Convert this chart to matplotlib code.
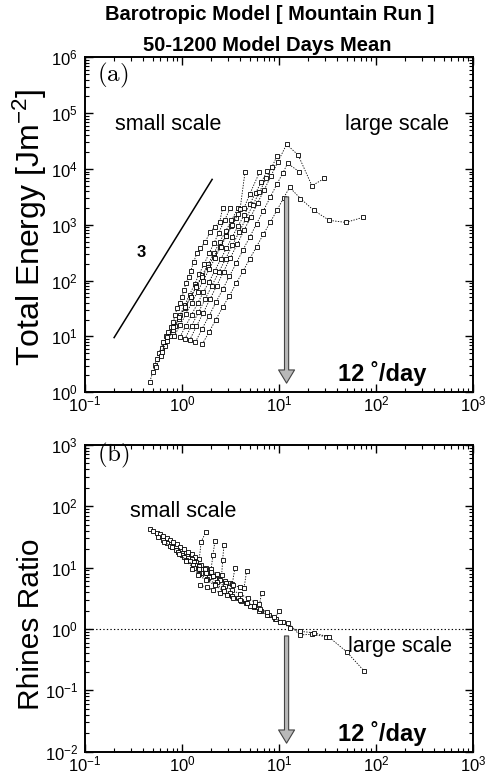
import matplotlib
matplotlib.use("Agg")
import matplotlib.pyplot as plt
from matplotlib.ticker import LogLocator, NullFormatter, LogFormatterSciNotation

plt.rcParams["font.family"] = ["Liberation Sans", "DejaVu Sans"]
plt.rcParams["mathtext.default"] = "regular"

# ── panel (a): total energy curves (x = phase speed, y = energy) ─────────────
E0_X = [0.468, 0.501, 0.525, 0.550, 0.575, 0.617, 0.646, 0.692, 0.724, 0.776, 0.813, 0.851, 0.891, 0.955,
        1.00, 1.05, 1.10, 1.17, 1.23, 1.32, 1.43, 1.55, 1.74, 1.95, 2.19, 2.45, 2.63]
E0_Y = [1.55, 2.29, 3.02, 3.98, 5.01, 6.31, 7.94, 10.0, 12.0, 14.8, 17.8, 24.0, 31.6, 39.8,
        50.1, 67.6, 89.1, 115, 148, 214, 309, 380, 490, 741, 912, 1120, 2000]
E1_X = [0.537, 0.603, 0.676, 0.759, 0.851, 0.955, 1.07, 1.20, 1.35, 1.51, 1.70, 1.91, 2.14, 2.40, 2.75, 3.16]
E1_Y = [2.82, 4.37, 6.61, 10.2, 15.5, 24.0, 36.3, 56.2, 85.1, 132, 200, 309, 468, 724, 1200, 2000]
E2_X = [0.617, 0.708, 0.813, 0.933, 1.07, 1.23, 1.41, 1.62, 1.86, 2.14, 2.45, 2.82, 3.24, 3.80]
E2_Y = [5.25, 8.32, 12.9, 20.4, 32.4, 50.1, 79.4, 126, 195, 309, 490, 759, 1200, 2000]
E3_X = [0.708, 0.813, 0.933, 1.07, 1.23, 1.41, 1.62, 1.86, 2.14, 2.45, 2.82, 3.24, 3.63, 3.98, 4.47]
E3_Y = [9.55, 14.5, 21.9, 33.1, 50.1, 77.6, 117, 178, 269, 407, 617, 933, 1320, 1910, 8710]
E4_X = [0.832, 0.955, 1.10, 1.26, 1.45, 1.66, 1.91, 2.19, 2.51, 2.88, 3.31, 3.80, 4.37, 5.01, 6.31]
E4_Y = [10.0, 15.8, 25.1, 39.8, 63.1, 100, 158, 251, 398, 631, 1000, 1580, 2000, 3550, 8710]
E5_X = [0.955, 1.10, 1.26, 1.45, 1.66, 1.91, 2.19, 2.51, 2.88, 3.31, 3.80, 4.37, 5.01, 5.75, 6.61, 7.59]
E5_Y = [9.77, 15.5, 24.5, 38.9, 61.7, 95.5, 151, 240, 380, 603, 955, 1480, 2340, 3720, 5890, 9120]
E6_X = [1.07, 1.26, 1.48, 1.74, 2.04, 2.40, 2.82, 3.31, 3.89, 4.57, 5.37, 6.31, 7.41, 8.51, 9.55]
E6_Y = [8.91, 15.5, 26.9, 46.8, 81.3, 141, 245, 427, 741, 1290, 2240, 3890, 6760, 11000, 17000]
E7_X = [1.20, 1.41, 1.66, 1.95, 2.29, 2.69, 3.16, 3.72, 4.37, 5.13, 6.03, 7.08, 8.32, 9.77, 12.0,
        15.8, 21.9, 29.5]
E7_Y = [8.51, 15.1, 26.3, 46.8, 81.3, 145, 257, 447, 794, 1380, 2450, 4270, 7590, 13500, 27500,
        17800, 5010, 6760]
E8_X = [1.38, 1.62, 1.91, 2.24, 2.63, 3.09, 3.63, 4.27, 5.01, 5.89, 6.92, 8.13, 9.55, 11.0, 12.3, 16.2]
E8_Y = [7.94, 13.8, 23.4, 40.7, 69.2, 120, 204, 355, 603, 1050, 1780, 3090, 5370, 8510, 12600, 8910]
E9_X = [1.62, 1.91, 2.24, 2.63, 3.09, 3.63, 4.27, 5.01, 5.89, 6.92, 8.13, 9.55, 11.2, 12.9,
        16.7, 22.8, 33.0, 49.1, 72.8]
E9_Y = [7.24, 12.0, 20.0, 33.1, 53.7, 89.1, 148, 245, 407, 676, 1100, 1820, 3020, 4680,
        2950, 1820, 1200, 1100, 1350]

# ── panel (b): Rhines ratio curves ───────────────────────────────────────────
R0_X = [0.468, 0.506, 0.548, 0.593, 0.641, 0.695, 0.752, 0.813, 0.881, 0.953, 1.05, 1.15, 1.26, 1.38,
        1.51, 1.58, 1.77]
R0_Y = [42.1, 39.4, 37.0, 34.8, 32.7, 30.0, 28.2, 25.8, 24.0, 21.9, 20.0, 18.2, 16.6, 15.1,
        13.8, 26.3, 38.5]
R1_X = [0.562, 0.631, 0.708, 0.794, 0.891, 1.00, 1.12, 1.26, 1.41, 1.58, 1.78, 2.00, 2.09, 2.19]
R1_Y = [31.6, 28.2, 25.1, 21.9, 19.5, 17.4, 15.5, 13.8, 12.3, 11.0, 10.0, 9.55, 15.8, 27.5]
R2_X = [0.661, 0.759, 0.871, 1.00, 1.15, 1.32, 1.51, 1.74, 2.00, 2.29, 2.57, 2.63, 2.71]
R2_Y = [26.3, 22.4, 19.1, 16.2, 14.1, 12.3, 10.7, 9.55, 8.51, 7.94, 7.59, 13.2, 23.4]
R3_X = [0.794, 0.912, 1.05, 1.20, 1.38, 1.58, 1.82, 2.09, 2.40, 2.75, 3.16, 3.31, 3.52]
R3_Y = [21.4, 17.8, 15.1, 12.9, 11.0, 9.55, 8.32, 7.41, 6.61, 6.03, 5.62, 5.50, 9.77]
R4_X = [0.933, 1.10, 1.29, 1.51, 1.78, 2.09, 2.45, 2.88, 3.39, 3.98, 4.37, 4.65]
R4_Y = [16.6, 13.5, 11.2, 9.55, 8.32, 7.24, 6.31, 5.62, 5.13, 4.79, 4.57, 8.91]
R5_X = [1.10, 1.32, 1.58, 1.91, 2.29, 2.75, 3.31, 3.98, 4.79, 5.62, 6.31, 6.64]
R5_Y = [12.6, 10.0, 8.32, 6.92, 5.89, 5.01, 4.27, 3.72, 3.16, 2.75, 2.51, 3.89]
R6_X = [1.26, 1.51, 1.82, 2.19, 2.63, 3.16, 3.80, 4.57, 5.50, 6.61, 7.94, 9.12, 10.0]
R6_Y = [9.55, 7.94, 6.61, 5.50, 4.57, 3.80, 3.16, 2.69, 2.29, 1.95, 1.66, 1.48, 2.00]
R7_X = [1.45, 1.78, 2.19, 2.69, 3.31, 4.07, 5.01, 6.17, 7.59, 9.33, 11.0, 12.5, 16.4, 21.7, 30.5]
R7_Y = [7.59, 6.31, 5.13, 4.17, 3.39, 2.82, 2.34, 2.00, 1.70, 1.45, 1.32, 1.24, 0.798, 0.820, 0.750]
R8_X = [1.53, 1.80, 2.10, 2.47, 2.89, 3.38, 3.96, 4.68, 5.50, 6.46, 7.59, 8.91, 10.2, 13.0,
        16.7, 22.8, 33.0, 49.8, 75.2]
R8_Y = [5.21, 4.78, 4.32, 3.90, 3.58, 3.16, 2.96, 2.69, 2.40, 2.14, 1.86, 1.58, 1.32, 1.05,
        0.912, 0.871, 0.733, 0.427, 0.209]

ENERGY_CURVES = [(E0_X, E0_Y), (E1_X, E1_Y), (E2_X, E2_Y), (E3_X, E3_Y), (E4_X, E4_Y),
                 (E5_X, E5_Y), (E6_X, E6_Y), (E7_X, E7_Y), (E8_X, E8_Y), (E9_X, E9_Y)]
RHINES_CURVES = [(R0_X, R0_Y), (R1_X, R1_Y), (R2_X, R2_Y), (R3_X, R3_Y), (R4_X, R4_Y),
                 (R5_X, R5_Y), (R6_X, R6_Y), (R7_X, R7_Y), (R8_X, R8_Y)]

SLOPE_X = [0.2, 2.05]
SLOPE_Y = [9.5, 6500]
ARROW_X = 12.0


def style_axis(ax, ylim):
    ax.set_xscale("log")
    ax.set_yscale("log")
    ax.set_xlim(0.1, 1000)
    ax.set_ylim(*ylim)
    for sp in ax.spines.values():
        sp.set_linewidth(1.4)
    ax.xaxis.set_major_locator(LogLocator(base=10, numticks=10))
    ax.yaxis.set_major_locator(LogLocator(base=10, numticks=10))
    ax.xaxis.set_minor_locator(LogLocator(base=10, subs=range(2, 10), numticks=10))
    ax.yaxis.set_minor_locator(LogLocator(base=10, subs=range(2, 10), numticks=10))
    ax.xaxis.set_minor_formatter(NullFormatter())
    ax.yaxis.set_minor_formatter(NullFormatter())
    ax.xaxis.set_major_formatter(LogFormatterSciNotation())
    ax.yaxis.set_major_formatter(LogFormatterSciNotation())
    ax.tick_params(which="both", direction="in", top=True, right=True, labelsize=12)
    ax.tick_params(which="major", length=6, width=1.0)
    ax.tick_params(which="minor", length=3, width=0.8)
    ax.tick_params(axis="x", which="major", pad=2)
    ax.tick_params(axis="y", which="major", pad=5)


def draw_curves(ax, curves):
    for xs, ys in curves:
        ax.plot(xs, ys, ls=(0, (1.6, 1.6)), lw=0.6, color="black",
                marker="s", ms=3.4, mew=0.6, mfc="white", mec="black")


def draw_arrow(ax, y_top, y_tip):
    ax.annotate("", xy=(ARROW_X, y_tip), xytext=(ARROW_X, y_top),
                arrowprops=dict(arrowstyle="simple,head_length=0.95,head_width=1.15,tail_width=0.3",
                                fc="#b8b8b8", ec="#444444", lw=0.8,
                                shrinkA=0, shrinkB=0, mutation_scale=10))


fig = plt.figure(figsize=(4.88, 7.75), dpi=100)

fig.text(0.553, 0.981, "Barotropic Model [ Mountain Run ]", ha="center", va="center",
         fontsize=14.5, fontweight="bold")
fig.text(0.547, 0.941, "50-1200 Model Days Mean", ha="center", va="center",
         fontsize=14.5, fontweight="bold")

# ── panel (a) ────────────────────────────────────────────────────────────────
ax_a = fig.add_axes([0.174, 0.494, 0.795, 0.432])
style_axis(ax_a, (1, 1e6))
draw_curves(ax_a, ENERGY_CURVES)
ax_a.plot(SLOPE_X, SLOPE_Y, color="black", lw=1.1)
ax_a.text(0.38, 320, "3", fontsize=12, fontweight="bold", ha="center", va="center")
ax_a.text(0.214, 0.80, "small scale", transform=ax_a.transAxes, fontsize=15.5, ha="center", va="center")
ax_a.text(0.804, 0.80, "large scale", transform=ax_a.transAxes, fontsize=15.5, ha="center", va="center")
ax_a.text(0.03, 0.946, r"$\mathrm{(a)}$", transform=ax_a.transAxes, fontsize=18,
          math_fontfamily="cm", ha="left", va="center")
draw_arrow(ax_a, 3160, 1.45)
ax_a.text(0.88, 0.055, "12 ˚/day", transform=ax_a.transAxes, fontsize=17,
          fontweight="bold", ha="right", va="center")
fig.text(0.062, 0.706, "Total Energy [Jm$^{-2}$]", rotation=90, ha="center", va="center",
         fontsize=23)

# ── panel (b) ────────────────────────────────────────────────────────────────
ax_b = fig.add_axes([0.174, 0.030, 0.795, 0.396])
style_axis(ax_b, (1e-2, 1e3))
ax_b.axhline(1.0, color="black", lw=0.8, ls=(0, (1.2, 2.0)))
draw_curves(ax_b, RHINES_CURVES)
ax_b.text(0.253, 0.782, "small scale", transform=ax_b.transAxes, fontsize=15.5, ha="center", va="center")
ax_b.text(0.812, 0.342, "large scale", transform=ax_b.transAxes, fontsize=15.5, ha="center", va="center")
ax_b.text(0.03, 0.967, r"$\mathrm{(b)}$", transform=ax_b.transAxes, fontsize=18,
          math_fontfamily="cm", ha="left", va="center")
draw_arrow(ax_b, 0.77, 0.0138)
ax_b.text(0.88, 0.06, "12 ˚/day", transform=ax_b.transAxes, fontsize=17,
          fontweight="bold", ha="right", va="center")
fig.text(0.064, 0.195, "Rhines Ratio", rotation=90, ha="center", va="center", fontsize=21.5)

fig.savefig("out.png", dpi=100)
